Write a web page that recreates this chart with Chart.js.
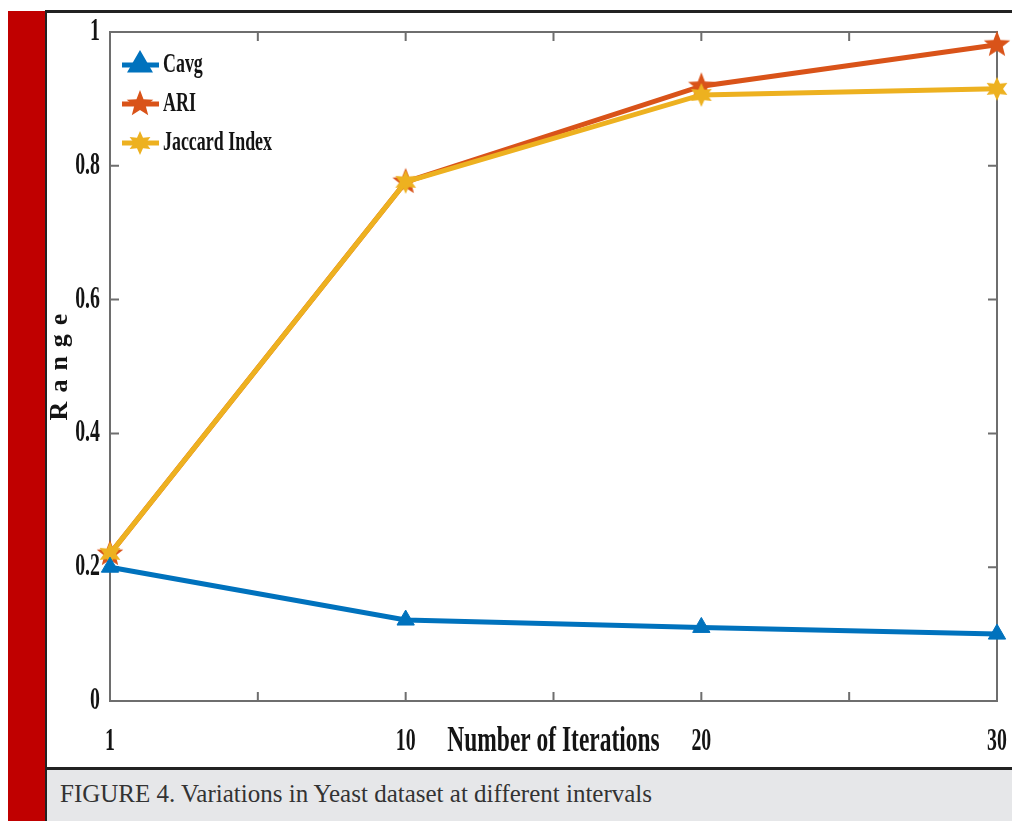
<!DOCTYPE html>
<html>
<head>
<meta charset="utf-8">
<script src="https://cdn.jsdelivr.net/npm/chart.js@4.4.0/dist/chart.umd.min.js"></script>
<style>
  html, body { margin: 0; padding: 0; background: #fff; }
  body { width: 1012px; height: 821px; position: relative; overflow: hidden; }
  #redbar { position: absolute; left: 8px; top: 11px; width: 38px; height: 810px; background: #c00000; }
  #vline { position: absolute; left: 45px; top: 10px; width: 2px; height: 811px; background: #222; }
  #topline { position: absolute; left: 45px; top: 10px; width: 967px; height: 3px; background: #222; }
  #botline { position: absolute; left: 45px; top: 767px; width: 967px; height: 3px; background: #222; }
  #wrap { position: absolute; left: 47px; top: 13px; width: 969px; height: 754px; }
  #caption { position: absolute; left: 47px; top: 770px; width: 965px; height: 51px; background: #e6e7e9;
    font-family: "Liberation Serif", serif; font-size: 25px; color: #333; }
  #caption span { position: absolute; left: 13px; top: 10px; white-space: nowrap; }
</style>
</head>
<body>
<div id="redbar"></div>
<div id="topline"></div>
<div id="wrap"><canvas id="chart" width="969" height="754"></canvas></div>
<div id="botline"></div>
<div id="vline"></div>
<div id="caption"><span>FIGURE 4. Variations in Yeast dataset at different intervals</span></div>
<script>
// values
const iterations = ['1', '10', '20', '30'];
const cavg = [0.2, 0.121, 0.11, 0.1];
const ari = [0.22, 0.776, 0.919, 0.981];
const jaccard = [0.22, 0.776, 0.906, 0.915];
const yTicks = [0, 0.2, 0.4, 0.6, 0.8, 1];
const seriesNames = ['Cavg', 'ARI', 'Jaccard Index'];

const blue = '#0072BD', orange = '#D95319', yellow = '#EDB120';
const axisColor = '#6e6e6e';
const inkColor = '#141414';

// star marker drawn on a small canvas
function makeStar(n, outer, inner, color) {
  const c = document.createElement('canvas');
  const s = Math.ceil(outer * 2 + 2);
  c.width = s; c.height = s;
  const g = c.getContext('2d');
  g.fillStyle = color;
  g.beginPath();
  for (let i = 0; i < n * 2; i++) {
    const r = i % 2 ? inner : outer;
    const a = -Math.PI / 2 + i * Math.PI / n;
    const px = s / 2 + r * Math.cos(a), py = s / 2 + r * Math.sin(a);
    i ? g.lineTo(px, py) : g.moveTo(px, py);
  }
  g.closePath();
  g.fill();
  return c;
}
const ariStar = makeStar(5, 14, 6, orange);
const jacStar = makeStar(6, 12, 6, yellow);

const toPts = arr => arr.map((v, i) => ({ x: i, y: v }));

function squeezedText(ctx, text, x, y, size, sx, align) {
  ctx.save();
  ctx.translate(x, y);
  ctx.scale(sx, 1);
  ctx.font = 'bold ' + size + 'px "Liberation Serif"';
  ctx.fillStyle = inkColor;
  ctx.textAlign = align;
  ctx.textBaseline = 'middle';
  ctx.fillText(text, 0, 0);
  ctx.restore();
}

const frame = {
  id: 'frame',
  beforeDatasetsDraw(chart) {
    const { ctx, chartArea: a, scales: { x, y } } = chart;
    ctx.save();
    ctx.strokeStyle = axisColor;
    ctx.lineWidth = 2;
    ctx.beginPath();
    for (let v = 0.5; v < iterations.length - 1; v += 0.5) {
      const px = x.getPixelForValue(v);
      ctx.moveTo(px, a.bottom); ctx.lineTo(px, a.bottom - 9);
      ctx.moveTo(px, a.top); ctx.lineTo(px, a.top + 9);
    }
    yTicks.slice(1, -1).forEach(v => {
      const py = y.getPixelForValue(v);
      ctx.moveTo(a.left, py); ctx.lineTo(a.left + 9, py);
      ctx.moveTo(a.right, py); ctx.lineTo(a.right - 9, py);
    });
    ctx.stroke();
    ctx.restore();
  },
  afterDraw(chart) {
    const { ctx, chartArea: a, scales: { x, y } } = chart;
    yTicks.forEach(v => squeezedText(ctx, String(v), a.left - 10, y.getPixelForValue(v), 31, 0.64, 'right'));
    iterations.forEach((t, i) => squeezedText(ctx, t, x.getPixelForValue(i), a.bottom + 41, 31, 0.64, 'center'));
    squeezedText(ctx, 'Number of Iterations', x.getPixelForValue(1.5), a.bottom + 41, 35, 0.67, 'center');

    // rotated y title
    ctx.save();
    ctx.translate(a.left - 50, (a.top + a.bottom) / 2);
    ctx.rotate(-Math.PI / 2);
    ctx.font = 'bold 26px "Liberation Serif"';
    ctx.letterSpacing = '9px';
    ctx.fillStyle = inkColor;
    ctx.textAlign = 'center';
    ctx.textBaseline = 'middle';
    ctx.fillText('Range', 4, 0);
    ctx.restore();

    // legend inside the plot
    const rows = [
      { color: blue, style: 'triangle', r: 10, w: 5 },
      { color: orange, style: ariStar, r: 14, w: 5 },
      { color: yellow, style: jacStar, r: 12, w: 5 }
    ];
    rows.forEach((row, i) => {
      const ly = a.top + 33 + i * 39;
      ctx.save();
      ctx.strokeStyle = row.color;
      ctx.lineWidth = row.w;
      ctx.beginPath();
      ctx.moveTo(a.left + 12, ly);
      ctx.lineTo(a.left + 49, ly);
      ctx.stroke();
      ctx.fillStyle = row.color;
      ctx.strokeStyle = row.color;
      Chart.helpers.drawPoint(ctx, { pointStyle: row.style, radius: row.r, rotation: 0, borderWidth: 1 }, a.left + 30, ly);
      ctx.restore();
      squeezedText(ctx, seriesNames[i], a.left + 53, ly, 28, 0.64, 'left');
    });
  }
};

const hiddenAxis = (pos, min, max, horiz) => ({
  type: 'linear', position: pos, min: min, max: max,
  grid: { display: false, drawTicks: false },
  border: { display: true, color: axisColor, width: 2 },
  ticks: { display: false },
  afterFit: s => { if (horiz) s.height = 0; else s.width = 0; }
});

new Chart(document.getElementById('chart'), {
  type: 'line',
  data: {
    datasets: [
      { label: seriesNames[0], data: toPts(cavg), borderColor: blue, backgroundColor: blue, borderWidth: 5,
        pointStyle: 'triangle', pointRadius: 10, pointBorderWidth: 1, order: 0, clip: false },
      { label: seriesNames[1], data: toPts(ari), borderColor: orange, backgroundColor: orange, borderWidth: 5,
        pointStyle: ariStar, pointRadius: 14, order: 2, clip: false },
      { label: seriesNames[2], data: toPts(jaccard), borderColor: yellow, backgroundColor: yellow, borderWidth: 5,
        pointStyle: jacStar, pointRadius: 12, order: 1, clip: false }
    ]
  },
  options: {
    responsive: false,
    animation: false,
    devicePixelRatio: 1,
    layout: { padding: { left: 63, top: 18, right: 11, bottom: 66 } },
    scales: {
      x: hiddenAxis('bottom', 0, iterations.length - 1, true),
      x2: hiddenAxis('top', 0, iterations.length - 1, true),
      y: hiddenAxis('left', 0, 1, false),
      y2: hiddenAxis('right', 0, 1, false)
    },
    plugins: { legend: { display: false }, tooltip: { enabled: false } }
  },
  plugins: [frame]
});
</script>
</body>
</html>
